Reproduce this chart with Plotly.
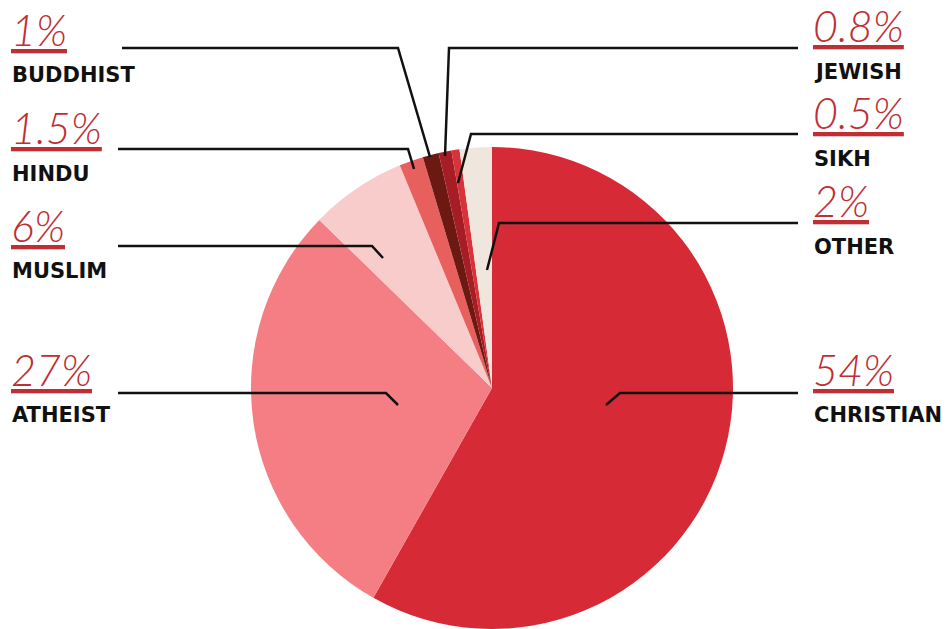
import plotly.graph_objects as go

# Religious affiliation shares (%), in clockwise order from 12 o'clock
religions = ["CHRISTIAN", "ATHEIST", "MUSLIM", "HINDU", "BUDDHIST", "JEWISH", "SIKH", "OTHER"]
shares = [54, 27, 6, 1.5, 1, 0.8, 0.5, 2]
slice_colors = ["#d62a36", "#f47e84", "#f8cccb", "#e8605d", "#6b1911", "#a71d25", "#d8333b", "#efe7de"]

W, H = 948, 629
PCT_COLOR = "#be2e32"

# Label layout in pixels: side, percent baseline, name baseline, leader polyline
label_layout = {
    "BUDDHIST":  dict(side="left",  pct_base=47,  name_base=83,  leader=[(122, 48), (398, 48), (430, 157)]),
    "HINDU":     dict(side="left",  pct_base=145, name_base=182, leader=[(118, 149), (408, 149), (414, 169)]),
    "MUSLIM":    dict(side="left",  pct_base=243, name_base=279, leader=[(118, 246), (372, 246), (383, 258)]),
    "ATHEIST":   dict(side="left",  pct_base=387, name_base=423, leader=[(118, 393), (386, 393), (398, 405)]),
    "JEWISH":    dict(side="right", pct_base=43,  name_base=80,  leader=[(798, 48), (449, 48), (445, 156)]),
    "SIKH":      dict(side="right", pct_base=130, name_base=167, leader=[(798, 134), (471, 134), (458, 183)]),
    "OTHER":     dict(side="right", pct_base=218, name_base=255, leader=[(798, 223), (499, 223), (487, 270)]),
    "CHRISTIAN": dict(side="right", pct_base=387, name_base=423, leader=[(798, 393), (620, 393), (606, 405)]),
}

def px(x):
    return x / W

def py(y):
    return 1 - y / H

# Pie geometry (pixels)
cx, cy, r = 492, 388, 241

fig = go.Figure(
    go.Pie(
        labels=religions,
        values=shares,
        marker=dict(colors=slice_colors, line=dict(width=0)),
        sort=False,
        direction="clockwise",
        rotation=0,
        textinfo="none",
        hoverinfo="label+percent",
        showlegend=False,
        domain=dict(x=[px(cx - r), px(cx + r)], y=[max(0, py(cy + r)), py(cy - r)]),
    )
)

PCT_SIZE = 43
NAME_SIZE = 21

annotations = []
shapes = []
for name, val in zip(religions, shares):
    spec = label_layout[name]
    x_left = 10 if spec["side"] == "left" else 812
    pct_text = f"{val:g}%"
    annotations.append(dict(
        text=pct_text, x=px(x_left - 1), y=py(spec["pct_base"] + 0.215 * PCT_SIZE + 1),
        xref="paper", yref="paper", xanchor="left", yanchor="bottom", showarrow=False,
        font=dict(family="Lato", size=PCT_SIZE, color=PCT_COLOR, weight=300,
                  style="italic", lineposition="under"),
    ))
    annotations.append(dict(
        text=name, x=px(x_left), y=py(spec["name_base"] + 0.236 * NAME_SIZE + 1),
        xref="paper", yref="paper", xanchor="left", yanchor="bottom", showarrow=False,
        font=dict(family="DejaVu Sans", size=NAME_SIZE, color="#111111", weight="bold"),
    ))
    pts = spec["leader"]
    path = "M " + " L ".join(f"{px(x):.5f},{py(y):.5f}" for x, y in pts)
    shapes.append(dict(type="path", path=path, xref="paper", yref="paper",
                       line=dict(color="#111111", width=2.5)))

fig.update_layout(
    width=W, height=H,
    margin=dict(l=0, r=0, t=0, b=0),
    paper_bgcolor="white", plot_bgcolor="white",
    annotations=annotations,
    shapes=shapes,
)

fig.write_html("out.html")
